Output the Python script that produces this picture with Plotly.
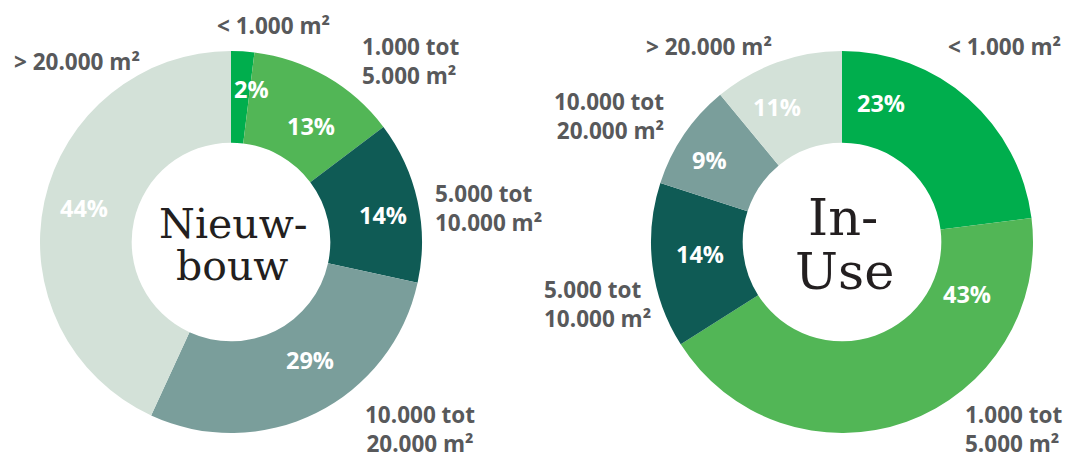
import math
import plotly.graph_objects as go

W, H = 1078, 452
OFF = 8  # browser body margin

categories = ["< 1.000 m²", "1.000 tot 5.000 m²", "5.000 tot 10.000 m²",
              "10.000 tot 20.000 m²", "> 20.000 m²"]
nieuwbouw_values = [2, 13, 14, 29, 44]
inuse_values = [23, 43, 14, 9, 11]
colors = ["#00AE4D", "#52B656", "#0F5B55", "#7A9E9B", "#D3E1D8"]

# style: donut geometry in pixels
R = 191
HOLE = 0.52
left_c = (231, 242)
right_c = (842, 242)

# style: nudges of the percentage labels (degrees, radius px)
left_label_off = [4.1, 4.6, 2.3, -7.3, 0.6]
left_label_r = [154, 141, 154, 142, 151]
right_label_off = [-25.7, -47.6, 2.4, -2.5, -5.9]
right_label_r = [144, 135, 143, 156, 150]

LABEL_FONT = dict(family="Open Sans", size=22.5, color="#58595B", weight=700)
PCT_FONT = dict(family="Open Sans", size=23.5, color="#FFFFFF", weight=700)
CENTER_COLOR = "#231F20"


def px(x, y):
    return (x - OFF) / W, 1 - (y - OFF) / H


def domain(c):
    x0, y0 = px(c[0] - R, c[1] + R)
    x1, y1 = px(c[0] + R, c[1] - R)
    return dict(x=[x0, x1], y=[y0, y1])


fig = go.Figure()
for vals, c in [(nieuwbouw_values, left_c), (inuse_values, right_c)]:
    fig.add_trace(go.Pie(
        labels=categories, values=vals, hole=HOLE, sort=False,
        direction="clockwise", rotation=0, textinfo="none",
        marker=dict(colors=colors, line=dict(width=0)),
        domain=domain(c), hoverinfo="label+percent",
    ))

annotations = []


def pct_labels(vals, c, offs, radii):
    total = sum(vals)
    cum = 0
    for v, o, r in zip(vals, offs, radii):
        th = math.radians((cum + v / 2) / total * 360 + o)
        cum += v
        x, y = px(c[0] + r * math.sin(th), c[1] - r * math.cos(th))
        annotations.append(dict(x=x, y=y, xref="paper", yref="paper",
                                text=f"{v}%", showarrow=False,
                                xanchor="center", yanchor="middle",
                                font=PCT_FONT))


pct_labels(nieuwbouw_values, left_c, left_label_off, left_label_r)
pct_labels(inuse_values, right_c, right_label_off, right_label_r)

# outer category labels: (text, x, y, xanchor, align)
outer = [
    ("< 1.000 m²", 273, 25, "center", "center"),
    ("1.000 tot<br>5.000 m²", 360, 61, "left", "left"),
    ("> 20.000 m²", 77, 61, "center", "center"),
    ("5.000 tot<br>10.000 m²", 433, 208, "left", "left"),
    ("10.000 tot<br>20.000 m²", 420, 429, "center", "center"),
    ("< 1.000 m²", 1063, 47, "right", "right"),
    ("> 20.000 m²", 709, 47, "center", "center"),
    ("10.000 tot<br>20.000 m²", 666, 116, "right", "right"),
    ("5.000 tot<br>10.000 m²", 542, 304, "left", "left"),
    ("1.000 tot<br>5.000 m²", 963, 429, "left", "left"),
]
for t, x, y, xa, al in outer:
    xx, yy = px(x, y)
    annotations.append(dict(x=xx, y=yy, xref="paper", yref="paper", text=t,
                            showarrow=False, xanchor=xa, yanchor="middle",
                            align=al, font=LABEL_FONT))

# centre titles
centre = [
    ("Nieuw-", 233, 224, 41),
    ("bouw", 232, 266, 41),
    ("In-", 843, 217, 51),
    ("Use", 844, 271, 51),
]
for t, x, y, s in centre:
    xx, yy = px(x, y)
    annotations.append(dict(x=xx, y=yy, xref="paper", yref="paper", text=t,
                            showarrow=False, xanchor="center", yanchor="middle",
                            font=dict(family="DejaVu Serif", size=s,
                                      color=CENTER_COLOR)))

fig.update_layout(
    width=W, height=H, margin=dict(l=0, r=0, t=0, b=0),
    paper_bgcolor="white", plot_bgcolor="white", showlegend=False,
    annotations=annotations,
)

fig.write_html("out.html")
